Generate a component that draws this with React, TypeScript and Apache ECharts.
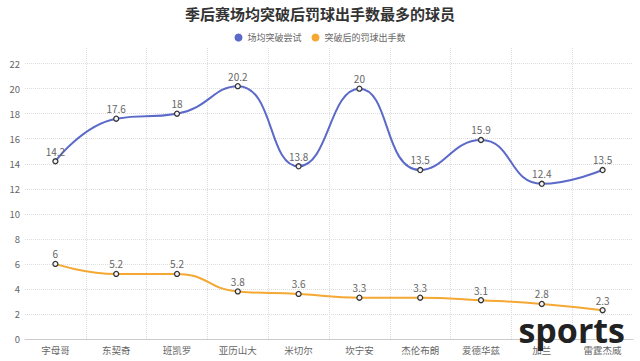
import React, { useEffect, useRef } from "react";
import * as echarts from "echarts";

const titleText = "季后赛场均突破后罚球出手数最多的球员";
const players = ["字母哥", "东契奇", "班凯罗", "亚历山大", "米切尔", "坎宁安", "杰伦布朗", "爱德华兹", "加兰", "雷霆杰威"];
const seriesNames = ["场均突破尝试", "突破后的罚球出手数"];
const drives = [14.2, 17.6, 18, 20.2, 13.8, 20, 13.5, 15.9, 12.4, 13.5];
const freeThrows = [6, 5.2, 5.2, 3.8, 3.6, 3.3, 3.3, 3.1, 2.8, 2.3];
const colors = ["#5b6ac9", "#f5a833"];

export default function App() {
  const ref = useRef<HTMLDivElement>(null);
  useEffect(() => {
    const chart = echarts.init(ref.current!, null, { renderer: "svg" });
    const font = "'Microsoft YaHei', 'Noto Sans CJK SC', sans-serif";
    const mkSeries = (name: string, data: number[], color: string) => ({
      name,
      type: "line",
      data,
      smooth: true,
      symbol: "circle",
      symbolSize: 5,
      lineStyle: { color, width: 2 },
      itemStyle: { color: "#f4f4f4", borderColor: "#333", borderWidth: 1.3 },
      label: { show: true, position: "top", distance: 2, color: "#666", fontSize: 10, fontFamily: font },
      emphasis: { disabled: true },
    });
    chart.setOption({
      animation: false,
      color: colors,
      textStyle: { fontFamily: font },
      title: {
        text: titleText,
        left: "center",
        top: 1,
        textStyle: { fontSize: 15, fontWeight: "bold", color: "#333", fontFamily: font },
      },
      legend: {
        top: 28,
        left: "center",
        icon: "circle",
        itemWidth: 8,
        itemHeight: 8,
        itemGap: 10,
        textStyle: { fontSize: 9, color: "#666", fontFamily: font },
        data: seriesNames.map((n, i) => ({ name: n, itemStyle: { color: colors[i], borderWidth: 0 } })),
      },
      grid: { left: 25, right: 7, top: 48, bottom: 22, containLabel: false },
      xAxis: {
        type: "category",
        data: players,
        axisLine: { lineStyle: { color: "#ccc" } },
        axisTick: { alignWithLabel: true, length: 4, lineStyle: { color: "#ccc" } },
        axisLabel: { color: "#666", fontSize: 9.5, margin: 6, fontFamily: font },
        splitLine: { show: true, showMinLine: false, showMaxLine: false, lineStyle: { type: "dotted", color: "#ddd" } },
      },
      yAxis: {
        type: "value",
        min: 0,
        max: 23.25,
        interval: 2,
        axisLine: { show: false },
        axisTick: { show: false },
        axisLabel: { color: "#666", fontSize: 9.5, margin: 5, showMaxLabel: false, fontFamily: font },
        splitLine: { show: true, showMaxLine: false, lineStyle: { type: "dotted", color: "#ddd" } },
      },
      graphic: [
        {
          type: "text",
          right: 15,
          bottom: 14,
          style: { text: "sports", fontSize: 34, fontWeight: "bold", fill: "#222", fontFamily: "'Open Sans', sans-serif" },
          z: 100,
        },
      ],
      series: [
        mkSeries(seriesNames[0], drives, colors[0]),
        mkSeries(seriesNames[1], freeThrows, colors[1]),
      ],
    });
    return () => chart.dispose();
  }, []);
  return <div ref={ref} style={{ width: 640, height: 361, position: "absolute", left: 0, top: 0 }} />;
}
